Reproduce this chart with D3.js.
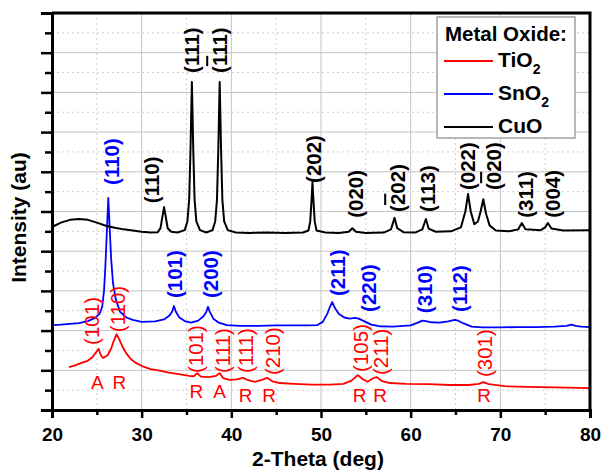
<!DOCTYPE html>
<html>
<head>
<meta charset="utf-8">
<script src="https://cdn.jsdelivr.net/npm/d3@7"></script>
<style>
  body { margin: 0; background: #fff; }
  svg { font-family: "Liberation Sans", Arial, sans-serif; }
</style>
</head>
<body>
<script>
// x-ray patterns: [2-theta, intensity (offset, au)]
const cuo = [
  [20.0, 4.61], [21.0, 4.72], [22.0, 4.79], [23.0, 4.81], [24.0, 4.79], [25.0, 4.72], [26.0, 4.64],
  [27.0, 4.59], [28.0, 4.55], [29.0, 4.52], [30.0, 4.49], [31.0, 4.47], [31.8, 4.48], [32.1, 4.58],
  [32.3, 4.85], [32.5, 5.11], [32.7, 4.85], [32.9, 4.58], [33.3, 4.49], [34.0, 4.47], [34.8, 4.53],
  [35.1, 4.75], [35.3, 5.3], [35.45, 6.6], [35.6, 8.26], [35.75, 6.6], [35.9, 5.3], [36.1, 4.75],
  [36.5, 4.53], [37.2, 4.47], [37.9, 4.53], [38.2, 4.75], [38.4, 5.3], [38.55, 6.6], [38.7, 8.26],
  [38.85, 6.6], [39.0, 5.3], [39.2, 4.75], [39.6, 4.53], [40.5, 4.47], [42, 4.46], [44, 4.47],
  [46, 4.46], [48, 4.47], [48.6, 4.52], [48.8, 4.75], [48.95, 5.3], [49.05, 5.74], [49.15, 5.3],
  [49.3, 4.75], [49.5, 4.52], [50.5, 4.47], [52, 4.46], [53.1, 4.49], [53.5, 4.58], [53.9, 4.49],
  [55, 4.46], [57, 4.47], [57.8, 4.55], [58.2, 4.84], [58.5, 4.58], [59.2, 4.48], [60.5, 4.47],
  [61.3, 4.55], [61.7, 4.81], [62.0, 4.57], [62.8, 4.49], [64.5, 4.5], [65.6, 4.6], [66.1, 5.0],
  [66.4, 5.44], [66.7, 5.0], [67.1, 4.68], [67.5, 4.75], [67.8, 5.0], [68.1, 5.31], [68.4, 4.95],
  [68.8, 4.65], [69.5, 4.52], [71, 4.5], [72.0, 4.55], [72.4, 4.71], [72.8, 4.55], [74.5, 4.53],
  [75.0, 4.6], [75.3, 4.71], [75.7, 4.57], [77, 4.52], [80, 4.53]
];
const sno2 = [
  [20.0, 2.14], [21.0, 2.15], [22.0, 2.17], [23.0, 2.19], [24.0, 2.24], [24.8, 2.32], [25.3, 2.42],
  [25.6, 2.6], [25.8, 3.0], [25.95, 3.6], [26.1, 4.4], [26.28, 5.34], [26.45, 4.5], [26.6, 3.8],
  [26.8, 3.2], [27.1, 2.8], [27.6, 2.47], [28.3, 2.33], [29.0, 2.27], [30.0, 2.22], [31.5, 2.23],
  [32.5, 2.28], [33.1, 2.38], [33.4, 2.48], [33.6, 2.62], [33.8, 2.48], [34.2, 2.33], [34.8, 2.24],
  [35.5, 2.2], [36.3, 2.25], [36.9, 2.36], [37.2, 2.47], [37.4, 2.6], [37.6, 2.47], [38.0, 2.3],
  [38.6, 2.2], [39.5, 2.14], [41, 2.12], [43, 2.12], [45, 2.13], [47, 2.13], [48.5, 2.13],
  [49.6, 2.14], [50.2, 2.22], [50.7, 2.42], [51.0, 2.6], [51.25, 2.72], [51.6, 2.55], [52.0, 2.42],
  [52.6, 2.33], [53.2, 2.3], [53.8, 2.32], [54.2, 2.3], [54.8, 2.24], [55.6, 2.15], [56.5, 2.11],
  [58, 2.1], [60, 2.13], [60.8, 2.2], [61.3, 2.25], [61.7, 2.24], [62.3, 2.21], [63.2, 2.2],
  [64.2, 2.23], [64.9, 2.27], [65.3, 2.25], [65.9, 2.18], [66.8, 2.1], [68, 2.08], [70, 2.08],
  [72, 2.09], [74, 2.09], [76, 2.1], [77.4, 2.12], [77.9, 2.15], [78.4, 2.12], [79, 2.1], [80, 2.09]
];
const tio2 = [
  [21.9, 1.08], [22.5, 1.12], [23.2, 1.18], [23.9, 1.23], [24.5, 1.33], [24.9, 1.45], [25.2, 1.54],
  [25.45, 1.38], [25.7, 1.31], [26.2, 1.38], [26.6, 1.55], [26.9, 1.75], [27.2, 1.91], [27.5, 1.78],
  [27.9, 1.58], [28.3, 1.42], [28.8, 1.28], [29.4, 1.18], [30.2, 1.09], [31.0, 1.03], [32.0, 0.99],
  [33.0, 0.94], [34.3, 0.9], [35.3, 0.86], [35.8, 0.85], [36.2, 0.93], [36.6, 0.84], [37.5, 0.83],
  [38.3, 0.86], [38.7, 0.93], [39.1, 0.8], [39.8, 0.76], [40.6, 0.77], [41.3, 0.81], [41.9, 0.75],
  [42.6, 0.71], [43.4, 0.76], [44.0, 0.81], [44.6, 0.72], [45.4, 0.68], [47, 0.66], [49, 0.64],
  [51, 0.64], [52.5, 0.66], [53.4, 0.74], [54.1, 0.88], [54.7, 0.77], [55.2, 0.71], [55.8, 0.8],
  [56.2, 0.83], [56.8, 0.73], [57.7, 0.68], [59.5, 0.66], [62, 0.65], [64.4, 0.63], [66.5, 0.63],
  [67.6, 0.66], [68.1, 0.7], [68.7, 0.65], [70.5, 0.6], [73, 0.58], [76, 0.57], [80, 0.55]
];

// peak indices: [2-theta, intensity at foot of label, hkl]  ("-" = bar over first digit)
const cuoPeaks = [
  [31.2, 5.21, "110"], [35.67, 8.49, "111"], [38.85, 8.49, "-111"], [49.3, 5.72, "202"],
  [54.0, 4.84, "020"], [58.7, 4.99, "-202"], [62.0, 4.99, "113"], [66.5, 5.54, "022"],
  [69.4, 5.54, "-020"], [73.0, 4.84, "311"], [76.0, 4.84, "004"]
];
const sno2Peaks = [
  [26.75, 5.67, "110"], [33.77, 2.82, "101"], [37.84, 2.82, "200"], [52.0, 2.87, "211"],
  [55.5, 2.47, "220"], [61.7, 2.44, "310"], [65.6, 2.47, "112"]
];
const tio2Peaks = [
  [24.6, 1.64, "101"], [27.5, 1.96, "110"], [36.2, 0.93, "101"], [39.2, 0.93, "111"],
  [41.7, 0.93, "111"], [44.7, 0.88, "210"], [54.6, 0.96, "105"], [56.8, 0.88, "211"],
  [68.4, 0.83, "301"]
];
// anatase / rutile marks under the TiO2 pattern
const phases = [
  [25.07, 0.53, "A"], [27.5, 0.53, "R"], [36.1, 0.3, "R"], [38.7, 0.3, "A"], [41.6, 0.2, "R"],
  [44.2, 0.2, "R"], [54.3, 0.2, "R"], [56.6, 0.2, "R"], [68.2, 0.2, "R"]
];

const seriesNames = ["TiO2", "SnO2", "CuO"];
const seriesColors = ["#ff0000", "#0000ff", "#000000"];
const xMajor = [20, 30, 40, 50, 60, 70, 80];
const xMinor = [25, 35, 45, 55, 65, 75];
const yMajor = [0, 1, 2, 3, 4, 5, 6, 7, 8, 9, 10];
const yMinor = [0.5, 1.5, 2.5, 3.5, 4.5, 5.5, 6.5, 7.5, 8.5, 9.5];

let width = 601, height = 473;
let margin = {top: 13, right: 11, bottom: 63, left: 52};

let x = d3.scaleLinear().domain([20, 80]).range([margin.left, width - margin.right]);
let y = d3.scaleLinear().domain([0, 10]).range([height - margin.bottom, margin.top]);

let svg = d3.select("body").append("svg")
  .attr("width", width)
  .attr("height", height);

svg.append("defs").append("clipPath").attr("id", "plot")
  .append("rect")
  .attr("x", x(20)).attr("y", y(10))
  .attr("width", x(80) - x(20)).attr("height", y(0) - y(10));

// grid
let grid = svg.append("g");
grid.selectAll(".gx").data(xMajor.slice(1, -1)).join("line")
  .attr("x1", d => x(d)).attr("x2", d => x(d)).attr("y1", y(0)).attr("y2", y(10))
  .attr("stroke", "#c4c4c4").attr("stroke-width", 1);
grid.selectAll(".gxm").data(xMinor).join("line")
  .attr("x1", d => x(d)).attr("x2", d => x(d)).attr("y1", y(0)).attr("y2", y(10))
  .attr("stroke", "#cfcfcf").attr("stroke-width", 1).attr("stroke-dasharray", "2,3");
grid.selectAll(".gy").data(yMajor.slice(1, -1)).join("line")
  .attr("x1", x(20)).attr("x2", x(80)).attr("y1", d => y(d)).attr("y2", d => y(d))
  .attr("stroke", "#c4c4c4").attr("stroke-width", 1);
grid.selectAll(".gym").data(yMinor).join("line")
  .attr("x1", x(20)).attr("x2", x(80)).attr("y1", d => y(d)).attr("y2", d => y(d))
  .attr("stroke", "#cfcfcf").attr("stroke-width", 1).attr("stroke-dasharray", "2,3");

// lines
let line = d3.line().x(d => x(d[0])).y(d => y(d[1]));
let lines = svg.append("g").attr("clip-path", "url(#plot)");
[tio2, sno2, cuo].forEach(function(s, i) {
  lines.append("path")
    .datum(s)
    .attr("d", line)
    .attr("fill", "none")
    .attr("stroke", seriesColors[i])
    .attr("stroke-width", i == 2 ? 2 : 1.8)
    .attr("stroke-linejoin", "round");
});

// peak labels, rotated
function hkl(sel, label) {
  let bar = label[0] == "-";
  let digits = bar ? label.slice(1) : label;
  sel.append("tspan").text("(");
  let first = sel.append("tspan").text(digits[0]);
  if (bar) first.style("text-decoration", "overline");
  sel.append("tspan").text(digits.slice(1) + ")");
}
function peakLabels(data, color, weight) {
  svg.append("g").selectAll("text").data(data).join("text")
    .attr("transform", d => `translate(${x(d[0])},${y(d[1])}) rotate(-90)`)
    .attr("dy", "0.3em")
    .attr("fill", color)
    .attr("font-size", 20.5)
    .attr("font-weight", weight)
    .each(function(d) { hkl(d3.select(this), d[2]); });
}
peakLabels(cuoPeaks, "#000", "bold");
peakLabels(sno2Peaks, "#0000ff", "bold");
peakLabels(tio2Peaks, "#ff0000", "normal");

svg.append("g").selectAll("text").data(phases).join("text")
  .attr("x", d => x(d[0])).attr("y", d => y(d[1]))
  .attr("text-anchor", "middle")
  .attr("fill", "#ff0000")
  .attr("font-size", 19)
  .text(d => d[2]);

// axes
let xAxis = svg.append("g").attr("transform", `translate(0,${y(0)})`)
  .call(d3.axisBottom(x).tickValues(xMajor).tickSize(8).tickPadding(10).tickFormat(d3.format("d")));
svg.append("g").attr("transform", `translate(0,${y(0)})`)
  .call(d3.axisBottom(x).tickValues(xMinor).tickSize(5).tickFormat(""))
  .select(".domain").remove();
let yAxis = svg.append("g").attr("transform", `translate(${x(20)},0)`)
  .call(d3.axisLeft(y).tickValues(yMajor).tickSize(11).tickFormat(""));
svg.append("g").attr("transform", `translate(${x(20)},0)`)
  .call(d3.axisLeft(y).tickValues(yMinor).tickSize(7).tickFormat(""))
  .select(".domain").remove();

svg.selectAll(".tick line").attr("stroke", "#000").attr("stroke-width", 2.5);
svg.selectAll(".domain").attr("stroke", "#000").attr("stroke-width", 3);
xAxis.selectAll("text")
  .attr("font-family", "Liberation Sans, Arial, sans-serif")
  .attr("font-size", 19).attr("font-weight", "bold").attr("fill", "#000");

// frame top/right
svg.append("path")
  .attr("d", `M${x(20)},${y(10)}H${x(80)}V${y(0)}`)
  .attr("fill", "none").attr("stroke", "#000").attr("stroke-width", 3);

// axis titles
svg.append("text")
  .attr("x", (x(20) + x(80)) / 2 - 3).attr("y", 466)
  .attr("text-anchor", "middle")
  .attr("font-size", 21).attr("font-weight", "bold")
  .text("2-Theta (deg)");
svg.append("text")
  .attr("transform", `translate(26,${(y(0) + y(10)) / 2 + 6}) rotate(-90)`)
  .attr("text-anchor", "middle")
  .attr("font-size", 21).attr("font-weight", "bold")
  .text("Intensity (au)");

// legend
let legend = svg.append("g").attr("transform", "translate(437,17)");
legend.append("rect")
  .attr("width", 138).attr("height", 121)
  .attr("fill", "#fff").attr("stroke", "#a0a0a0").attr("stroke-width", 1.5);
legend.append("text")
  .attr("x", 8).attr("y", 24)
  .attr("font-size", 20.5).attr("font-weight", "bold")
  .text("Metal Oxide:");
seriesNames.forEach(function(name, i) {
  let ly = 44 + i * 33;
  legend.append("line")
    .attr("x1", 7).attr("x2", 56).attr("y1", ly).attr("y2", ly)
    .attr("stroke", seriesColors[i]).attr("stroke-width", 1.8);
  let t = legend.append("text")
    .attr("x", 61).attr("y", ly + 6)
    .attr("font-size", 21).attr("font-weight", "bold");
  let m = name.match(/^(\D+)(\d*)$/);
  t.append("tspan").text(m[1]);
  if (m[2]) t.append("tspan").attr("dy", 7).attr("font-size", 14).text(m[2]);
});
</script>
</body>
</html>
